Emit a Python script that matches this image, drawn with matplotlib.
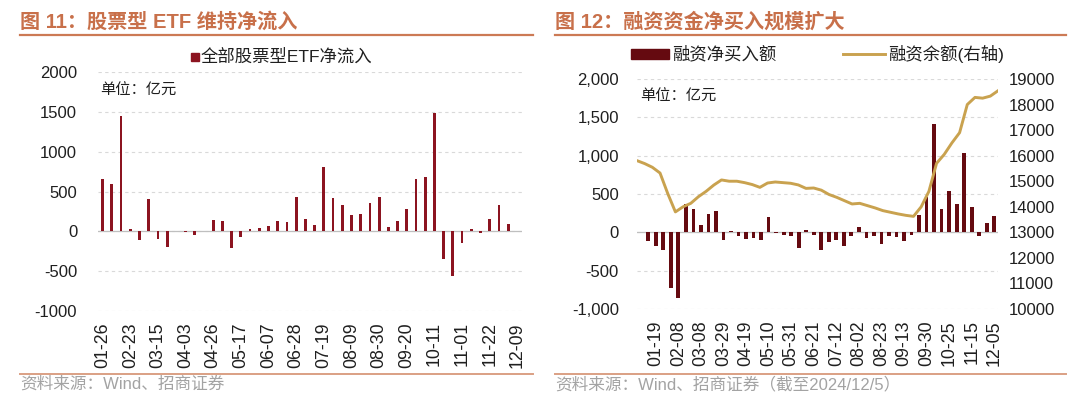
import matplotlib
matplotlib.use('Agg')
import matplotlib.pyplot as plt
from matplotlib.patches import Rectangle
from matplotlib.lines import Line2D
import numpy as np

plt.rcParams['font.family'] = ['Liberation Sans', 'Noto Sans CJK SC']
plt.rcParams['axes.unicode_minus'] = False

# ---------------- data ----------------
etf_dates = ['01-26', '02-02', '02-08', '02-23', '03-01', '03-08', '03-15', '03-22', '03-29', '04-03',
             '04-12', '04-19', '04-26', '04-30', '05-10', '05-17', '05-24', '05-31', '06-07', '06-14',
             '06-21', '06-28', '07-05', '07-12', '07-19', '07-26', '08-02', '08-09', '08-16', '08-23',
             '08-30', '09-06', '09-13', '09-20', '09-27', '09-30', '10-11', '10-18', '10-25', '11-01',
             '11-08', '11-15', '11-22', '11-29', '12-06', '12-09']
etf_flow = [662, 591, 1447, 30, -110, 401, -95, -194, 0, -5,
            -45, 5, 148, 131, -203, -68, 25, 42, 72, 131,
            122, 430, 160, 84, 802, 418, 329, 207, 219, 354,
            435, 55, 135, 283, 662, 684, 1485, -342, -561, -143,
            34, -25, 152, 325, 93, 0]

mf_dates = ['01-05', '01-12', '01-19', '01-26', '02-02', '02-08', '02-23', '03-01', '03-08', '03-15',
            '03-22', '03-29', '04-03', '04-12', '04-19', '04-26', '04-30', '05-10', '05-17', '05-24',
            '05-31', '06-07', '06-14', '06-21', '06-28', '07-05', '07-12', '07-19', '07-26', '08-02',
            '08-09', '08-16', '08-23', '08-30', '09-06', '09-13', '09-20', '09-27', '09-30', '10-11',
            '10-18', '10-25', '11-01', '11-08', '11-15', '11-22', '11-29', '12-05']
mf_netbuy = [5, -114, -175, -231, -729, -860, 371, 301, 96, 236,
             275, -96, 22, -44, -92, -74, -96, 205, -5, -35,
             -52, -201, 26, -35, -225, -125, -96, -183, -52, 65,
             -78, -52, -152, -52, -65, -117, -30, 231, 457, 1414,
             305, 535, 370, 1035, 326, -44, 126, 218]
mf_balance = [15805, 15690, 15545, 15320, 14520, 13800, 14000, 14135, 14395, 14605,
              14850, 15050, 15000, 15000, 14945, 14870, 14760, 14930, 14970, 14945,
              14920, 14855, 14720, 14735, 14650, 14480, 14370, 14240, 14110, 14135,
              14045, 13955, 13850, 13785, 13720, 13665, 13625, 14000, 14600, 15700,
              16050, 16500, 16900, 18000, 18280, 18250, 18330, 18540]

left_yticks = [-1000, -500, 0, 500, 1000, 1500, 2000]
right_yticks = [-1000, -500, 0, 500, 1000, 1500, 2000]
right_y2ticks = list(range(10000, 19001, 1000))

title_left = '图 11：股票型 ETF 维持净流入'
title_right = '图 12：融资资金净买入规模扩大'
legend_left = '全部股票型ETF净流入'
legend_bar = '融资净买入额'
legend_line = '融资余额(右轴)'
unit_text = '单位：亿元'
source_left = '资料来源：Wind、招商证券'
source_right = '资料来源：Wind、招商证券（截至2024/12/5）'

# ---------------- style ----------------
W, H = 1080, 396
TITLE_C = '#C8704A'
RULE_TOP = '#CC7A55'
RULE_BOT = '#DBA084'
BAR_L = '#8C1420'
BAR_R = '#650A10'
LINE_C = '#C9A24F'
GRID_C = '#D9D9D9'
TXT = '#1F1F1F'
SRC_C = '#A3A3A3'


def fx(x):
    return x / W


def fy(y):
    return 1 - y / H


fig = plt.figure(figsize=(10.8, 3.96), dpi=100)
fig.patch.set_facecolor('white')


def style_axes(ax, ylim, yticks, fmt, pad_y):
    ax.set_ylim(*ylim)
    ax.set_yticks(yticks)
    ax.set_yticklabels([fmt(v) for v in yticks])
    for s in ax.spines.values():
        s.set_visible(False)
    ax.yaxis.grid(True, color=GRID_C, linestyle=(0, (3, 3)), linewidth=0.8)
    ax.set_axisbelow(True)
    ax.axhline(0, color='#BFBFBF', linewidth=0.9, zorder=1)
    ax.tick_params(axis='y', length=0, labelsize=12, pad=pad_y, colors=TXT)
    ax.tick_params(axis='x', length=0, labelsize=12.8, pad=8, colors=TXT)


# ---------------- left chart ----------------
axL = fig.add_axes([fx(98), fy(311), fx(522) - fx(98), (311 - 72) / H])
xL = np.arange(len(etf_dates))
axL.bar(xL, etf_flow, width=0.3, color=BAR_L, zorder=2)
axL.set_xlim(-0.5, len(etf_dates) - 0.5)
style_axes(axL, (-1000, 2000), left_yticks, lambda v: f'{v:d}', 15)
axL.set_xticks(xL[::3])
axL.set_xticklabels(etf_dates[::3], rotation=90)

# ---------------- right chart ----------------
axR = fig.add_axes([fx(637), fy(309), fx(998) - fx(637), (309 - 79) / H])
xR = np.arange(len(mf_dates))
axR.bar(xR, mf_netbuy, width=0.5, color=BAR_R, zorder=2)
axR.set_xlim(-0.5, len(mf_dates) - 0.5)
style_axes(axR, (-1000, 2000), right_yticks, lambda v: f'{v:,d}', 13)
axR.set_xticks(xR[2::3])
axR.set_xticklabels(mf_dates[2::3], rotation=90)

axR2 = axR.twinx()
xline = np.linspace(-0.5, len(mf_dates) - 0.5, len(mf_balance))
axR2.plot(xline, mf_balance, color=LINE_C, linewidth=2.1, zorder=3)
axR2.set_ylim(10000, 19000)
axR2.set_yticks(right_y2ticks)
axR2.set_yticklabels([str(v) for v in right_y2ticks])
for s in axR2.spines.values():
    s.set_visible(False)
axR2.tick_params(axis='y', length=0, labelsize=12, pad=8, colors=TXT)

# ---------------- titles & rules ----------------
fig.text(fx(20), fy(22), title_left, fontsize=14.5, fontweight='bold', color=TITLE_C,
         ha='left', va='center', family=['Liberation Sans', 'Noto Sans CJK SC'])
fig.text(fx(555), fy(22), title_right, fontsize=14.5, fontweight='bold', color=TITLE_C,
         ha='left', va='center', family=['Liberation Sans', 'Noto Sans CJK SC'])
fig.add_artist(Line2D([fx(20), fx(533)], [fy(35), fy(35)], color=RULE_TOP, linewidth=1.6))
fig.add_artist(Line2D([fx(555), fx(1066)], [fy(35), fy(35)], color=RULE_TOP, linewidth=1.6))
fig.add_artist(Line2D([fx(20), fx(533)], [fy(374), fy(374)], color=RULE_BOT, linewidth=1.4))
fig.add_artist(Line2D([fx(555), fx(1066)], [fy(374), fy(374)], color=RULE_BOT, linewidth=1.4))

# sources
fig.text(fx(20), fy(384), source_left, fontsize=12, color=SRC_C, ha='left', va='center')
fig.text(fx(555), fy(384), source_right, fontsize=12, color=SRC_C, ha='left', va='center')

# unit labels
fig.text(fx(100), fy(91), unit_text, fontsize=11, color=TXT, ha='left', va='center')
fig.text(fx(640), fy(97), unit_text, fontsize=11, color=TXT, ha='left', va='center')

# ---------------- legends ----------------
fig.add_artist(Rectangle((fx(191), fy(61)), fx(8), 8 / H, color=BAR_L, transform=fig.transFigure))
fig.text(fx(201), fy(57), legend_left, fontsize=12.5, color=TXT, ha='left', va='center')

fig.add_artist(Rectangle((fx(631), fy(59)), fx(38), 10 / H, color=BAR_R, transform=fig.transFigure))
fig.text(fx(672), fy(54), legend_bar, fontsize=12.5, color=TXT, ha='left', va='center')
fig.add_artist(Line2D([fx(843), fx(885)], [fy(54), fy(54)], color=LINE_C, linewidth=2.1))
fig.text(fx(888), fy(54), legend_line, fontsize=12.5, color=TXT, ha='left', va='center')

fig.savefig('out.png', dpi=100, facecolor='white')
